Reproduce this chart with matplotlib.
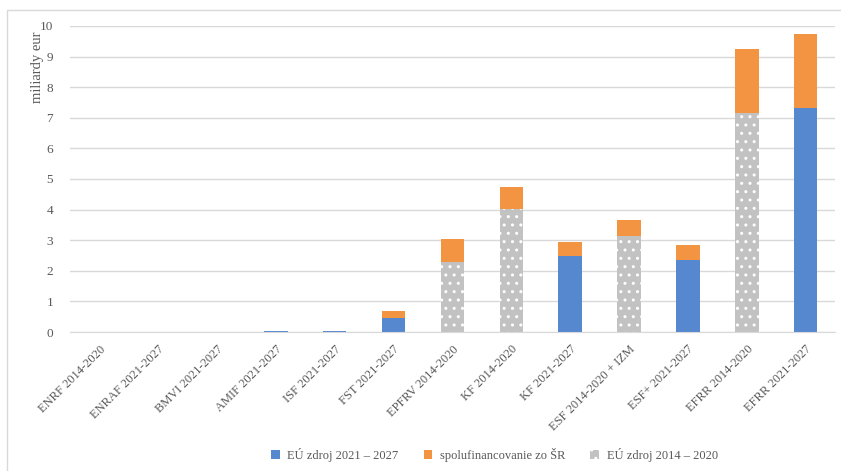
import numpy as np
import matplotlib
matplotlib.use("Agg")
import matplotlib.pyplot as plt
from matplotlib.patches import Patch, Rectangle

# funds and their allocations (billion EUR)
categories = ['ENRF 2014-2020', 'ENRAF 2021-2027', 'BMVI 2021-2027', 'AMIF 2021-2027',
              'ISF 2021-2027', 'FST 2021-2027', 'EPFRV 2014-2020', 'KF 2014-2020',
              'KF 2021-2027', 'ESF 2014-2020 + IZM', 'ESF+ 2021-2027', 'EFRR 2014-2020',
              'EFRR 2021-2027']
eu_2021_2027 = [0, 0.01, 0.01, 0.03, 0.03, 0.47, 0, 0, 2.47, 0, 2.36, 0, 7.31]
eu_2014_2020 = [0.01, 0, 0, 0, 0, 0, 2.29, 4.01, 0, 3.15, 0, 7.17, 0]
cofinancing = [0, 0.005, 0.005, 0.015, 0.015, 0.21, 0.75, 0.73, 0.46, 0.51, 0.48, 2.08, 2.43]
y_ticks = [0, 1, 2, 3, 4, 5, 6, 7, 8, 9, 10]

BLUE = '#5588cf'
ORANGE = '#f29441'
GRAY = '#c2c2c2'
TEXT = '#595959'

plt.rcParams['font.family'] = ['Liberation Serif', 'DejaVu Serif']
plt.rcParams['hatch.linewidth'] = 1.0

fig = plt.figure(figsize=(8.41, 4.71), dpi=100)
ax = fig.add_axes([0.083, 0.295, 0.910, 0.650])

# light frame around the chart area
fig.patches.append(Rectangle((7 / 841, -0.1), 1.1, 1 - 10 / 471 + 0.1,
                             transform=fig.transFigure, fill=False,
                             edgecolor='#d9d9d9', linewidth=1))

x = np.arange(len(categories))
w = 0.4
blue = np.array(eu_2021_2027)
gray = np.array(eu_2014_2020)
orange = np.array(cofinancing)

ax.bar(x, blue, w, color=BLUE, linewidth=0)
ax.bar(x, gray, w, bottom=blue, color=GRAY, edgecolor='white', hatch='..', linewidth=0)
ax.bar(x, orange, w, bottom=blue + gray, color=ORANGE, linewidth=0)

ax.set_xlim(-0.5, len(categories) - 0.5)
ax.set_ylim(0, 10)
ax.set_yticks(y_ticks)
ax.yaxis.grid(True, color='#d9d9d9', linewidth=1)
ax.set_axisbelow(True)
for s in ['top', 'right', 'left']:
    ax.spines[s].set_visible(False)
ax.spines['bottom'].set_color('#d9d9d9')
ax.tick_params(axis='both', length=0, colors=TEXT)
ax.tick_params(axis='y', pad=12, labelsize=9.5)
ax.set_xticks(x)
ax.set_xticklabels(categories, rotation=45, ha='right', rotation_mode='anchor')
ax.tick_params(axis='x', pad=8, labelsize=9)

fig.text(37 / 841, 1 - 67 / 471, 'miliardy eur', rotation=90, ha='center', va='center',
         color=TEXT, fontsize=10.5)

handles = [Patch(facecolor=BLUE, label='EÚ zdroj 2021 – 2027'),
           Patch(facecolor=ORANGE, label='spolufinancovanie zo ŠR'),
           Patch(facecolor=GRAY, edgecolor='white', hatch='..', linewidth=0,
                 label='EÚ zdroj 2014 – 2020')]
leg = fig.legend(handles=handles, loc='center', bbox_to_anchor=(0.588, 1 - 455 / 471),
                 ncol=3, frameon=False, fontsize=9, handlelength=0.7, handleheight=0.7,
                 handletextpad=0.6, columnspacing=2.0)
for t in leg.get_texts():
    t.set_color(TEXT)

fig.savefig('out.png', dpi=100)
